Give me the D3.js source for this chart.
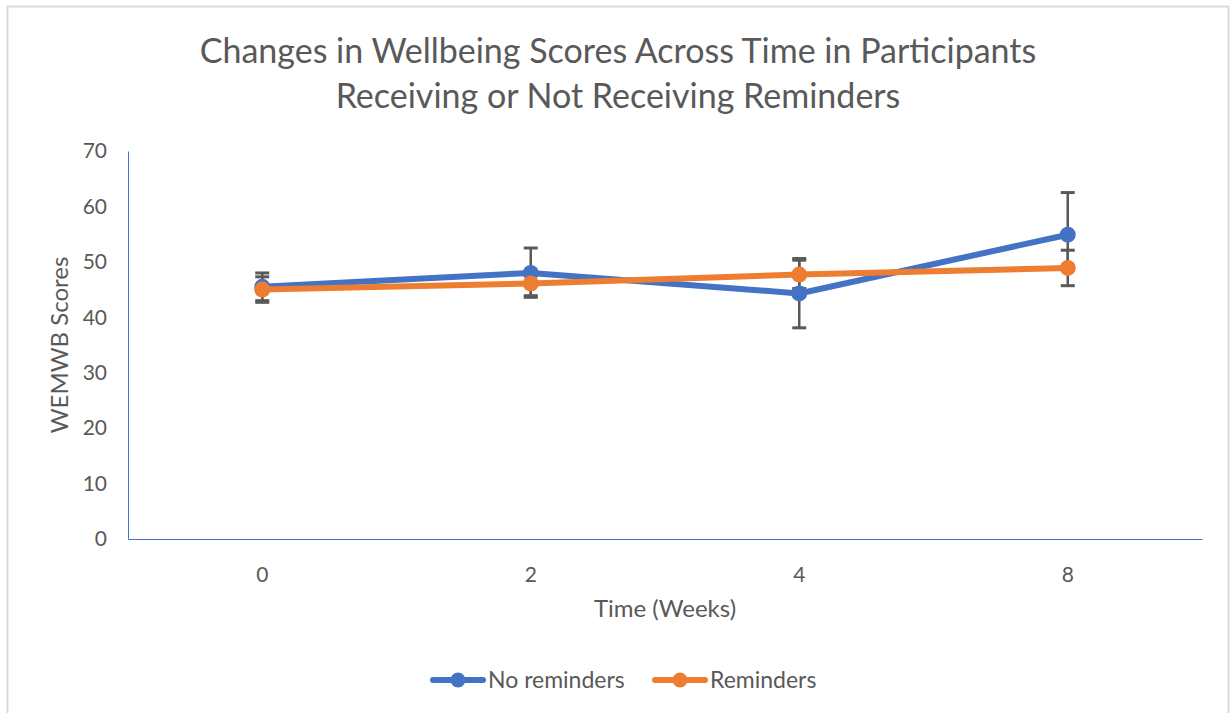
<!DOCTYPE html>
<html>
<head>
<meta charset="utf-8">
<script src="https://cdn.jsdelivr.net/npm/d3@7"></script>
<style>
  body { margin: 0; background: #fff; }
  text { font-family: Lato, "Open Sans", sans-serif; fill: #595959; }
</style>
</head>
<body>
<div id="chart"></div>
<script>
const weeks = ["0", "2", "4", "8"];
const yTicks = [0, 10, 20, 30, 40, 50, 60, 70];

const noReminders = [45.5, 48.0, 44.3, 54.9];
const noRemindersHi = [48.0, 52.5, 50.6, 62.5];
const noRemindersLo = [43.0, 43.6, 38.1, 49.0];

const reminders = [45.0, 46.1, 47.7, 48.9];
const remindersHi = [47.3, 48.3, 50.3, 52.1];
const remindersLo = [42.7, 43.9, 45.2, 45.7];

const series = [
  { name: "No reminders", color: "#4472C4", values: noReminders, hi: noRemindersHi, lo: noRemindersLo },
  { name: "Reminders", color: "#ED7D31", values: reminders, hi: remindersHi, lo: remindersLo }
];

const W = 1231, H = 713;
const plot = { left: 128, right: 1202, top: 151, bottom: 539 };

const svg = d3.select("#chart").append("svg")
  .attr("width", W)
  .attr("height", H);

svg.append("rect")
  .attr("x", 7.5).attr("y", 6.5)
  .attr("width", 1221).attr("height", 730)
  .attr("fill", "#fff")
  .attr("stroke", "#d9d9d9")
  .attr("stroke-width", 2);

const x = d3.scaleBand()
  .domain(weeks)
  .range([plot.left, plot.right]);

const y = d3.scaleLinear()
  .domain([0, 70])
  .range([plot.bottom, plot.top]);

// title
const title = svg.append("text")
  .attr("text-anchor", "middle")
  .style("font-size", "34px");
title.append("tspan").attr("x", 618).attr("y", 63)
  .text("Changes in Wellbeing Scores Across Time in Participants");
title.append("tspan").attr("x", 618).attr("y", 108)
  .text("Receiving or Not Receiving Reminders");

// axes
const yAxis = svg.append("g")
  .attr("transform", `translate(${plot.left},0)`)
  .call(d3.axisLeft(y).tickValues(yTicks).tickSize(0).tickPadding(21));
yAxis.select(".domain").attr("stroke", "#4472C4").attr("stroke-width", 1);
yAxis.selectAll("text").style("font-size", "21px").attr("fill", "#595959");

const xAxis = svg.append("g")
  .attr("transform", `translate(0,${plot.bottom})`)
  .call(d3.axisBottom(x).tickSize(0).tickPadding(28));
xAxis.select(".domain").attr("stroke", "#4472C4").attr("stroke-width", 1);
xAxis.selectAll("text").style("font-size", "21px").attr("fill", "#595959");

svg.append("text")
  .attr("x", 665).attr("y", 617)
  .attr("text-anchor", "middle")
  .style("font-size", "24px")
  .text("Time (Weeks)");

svg.append("text")
  .attr("transform", "translate(68,345) rotate(-90)")
  .attr("text-anchor", "middle")
  .style("font-size", "24px")
  .text("WEMWB Scores");

// error bars under the lines
const cx = d => x(d) + x.bandwidth() / 2;
series.forEach(s => {
  const g = svg.append("g").attr("stroke", "#595959").attr("stroke-width", 2.5);
  weeks.forEach((w, i) => {
    g.append("line")
      .attr("x1", cx(w)).attr("x2", cx(w))
      .attr("y1", y(s.hi[i])).attr("y2", y(s.lo[i]));
    [s.hi[i], s.lo[i]].forEach(v => {
      g.append("line")
        .attr("x1", cx(w) - 7).attr("x2", cx(w) + 7)
        .attr("y1", y(v)).attr("y2", y(v))
        .attr("stroke-width", 3);
    });
  });
});

const line = d3.line()
  .x((d, i) => cx(weeks[i]))
  .y(d => y(d));

series.forEach(s => {
  svg.append("path")
    .datum(s.values)
    .attr("d", line)
    .attr("fill", "none")
    .attr("stroke", s.color)
    .attr("stroke-width", 6)
    .attr("stroke-linejoin", "round");
  svg.selectAll(null)
    .data(s.values)
    .enter().append("circle")
    .attr("cx", (d, i) => cx(weeks[i]))
    .attr("cy", d => y(d))
    .attr("r", 8)
    .attr("fill", s.color);
});

// legend
const legendX = [430, 652];
series.forEach((s, i) => {
  const g = svg.append("g").attr("transform", `translate(${legendX[i]},680)`);
  g.append("line")
    .attr("x1", 3).attr("x2", 53)
    .attr("stroke", s.color).attr("stroke-width", 6)
    .attr("stroke-linecap", "round");
  g.append("circle").attr("cx", 28).attr("r", 7.5).attr("fill", s.color);
  g.append("text")
    .attr("x", 58).attr("dy", "0.35em")
    .style("font-size", "23px")
    .text(s.name);
});
</script>
</body>
</html>
